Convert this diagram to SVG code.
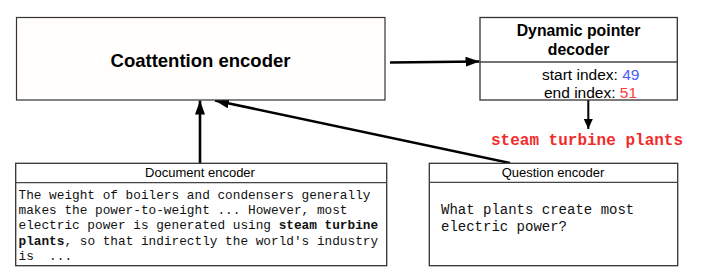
<svg xmlns="http://www.w3.org/2000/svg" width="703" height="277" viewBox="0 0 703 277">
  <style>
    .box { fill: #ffffff; stroke: #333333; stroke-width: 1.3; }
    .sep { stroke: #444444; stroke-width: 1.3; }
    .sans { font-family: "Liberation Sans", Arial, sans-serif; fill: #000000; }
    .title { font-weight: bold; text-anchor: middle; }
    .mono { font-family: "Liberation Mono", "Courier New", monospace; fill: #111111; white-space: pre; }
    .edge { stroke: #000000; fill: none; }
  </style>
  <defs>
    <marker id="head" viewBox="0 0 14 10" refX="14" refY="5" markerWidth="14" markerHeight="10" markerUnits="userSpaceOnUse" orient="auto">
      <path d="M0,0 L14,5 L0,10 Z" fill="#000000"/>
    </marker>
    <marker id="headSmall" viewBox="0 0 10 9" refX="10" refY="4.5" markerWidth="10" markerHeight="9" markerUnits="userSpaceOnUse" orient="auto">
      <path d="M0,0 L10,4.5 L0,9 Z" fill="#000000"/>
    </marker>
  </defs>

  <rect width="703" height="277" fill="#ffffff"/>

  <!-- connectors -->
  <g id="connectors">
    <line class="edge" x1="200" y1="163" x2="200" y2="100.5" stroke-width="2.6" marker-end="url(#head)"/>
    <line class="edge" x1="510" y1="163" x2="215" y2="100.5" stroke-width="2.6" marker-end="url(#head)"/>
    <line class="edge" x1="390" y1="62.5" x2="479.5" y2="61.5" stroke-width="2.6" marker-end="url(#head)"/>
    <line class="edge" x1="588.3" y1="100" x2="588.3" y2="129" stroke-width="2" marker-end="url(#headSmall)"/>
  </g>

  <!-- coattention encoder -->
  <g id="coattention">
    <rect x="16.5" y="17.5" width="368.5" height="82.5" fill="#fffefd" stroke="#333333" stroke-width="1.2"/>
    <text class="sans title" x="200.5" y="66.5" font-size="18.5">Coattention encoder</text>
  </g>

  <!-- dynamic pointer decoder -->
  <g id="decoder">
    <rect class="box" x="480" y="17.5" width="197.3" height="82.5"/>
    <line class="sep" x1="480" y1="62" x2="677.3" y2="62"/>
    <text class="sans title" x="578.6" y="36" font-size="15.8">Dynamic pointer</text>
    <text class="sans title" x="578.6" y="55" font-size="15.8">decoder</text>
    <text class="sans" x="542" y="80" font-size="15.5">start index: <tspan fill="#4a5cff">49</tspan></text>
    <text class="sans" x="544" y="97.5" font-size="15.5">end index: <tspan fill="#ff3b3b">51</tspan></text>
  </g>

  <!-- predicted answer -->
  <g id="answer">
    <text x="491" y="145" font-family="'Liberation Mono', 'Courier New', monospace" font-weight="bold" font-size="16" fill="#f22b2b">steam turbine plants</text>
  </g>

  <!-- document encoder -->
  <g id="document">
    <rect class="box" x="15.7" y="163.3" width="371" height="102.4"/>
    <line class="sep" x1="15.7" y1="182.7" x2="386.7" y2="182.7"/>
    <text class="sans" x="200" y="176.5" font-size="13" text-anchor="middle">Document encoder</text>
    <g class="mono" font-size="12.75">
      <text x="18.5" y="198.5">The weight of boilers and condensers generally</text>
      <text x="18.5" y="214">makes the power-to-weight ... However, most</text>
      <text x="18.5" y="229.4">electric power is generated using <tspan font-weight="bold">steam turbine</tspan></text>
      <text x="18.5" y="244.8"><tspan font-weight="bold">plants</tspan>, so that indirectly the world's industry</text>
      <text x="18.5" y="260.2" xml:space="preserve">is  ...</text>
    </g>
  </g>

  <!-- question encoder -->
  <g id="question">
    <rect class="box" x="429.3" y="163.3" width="248.4" height="102.4"/>
    <line class="sep" x1="429.3" y1="182.3" x2="677.7" y2="182.3"/>
    <text class="sans" x="553" y="177" font-size="13" text-anchor="middle">Question encoder</text>
    <g class="mono" font-size="14">
      <text x="441" y="214">What plants create most</text>
      <text x="441" y="230.7">electric power?</text>
    </g>
  </g>
</svg>
